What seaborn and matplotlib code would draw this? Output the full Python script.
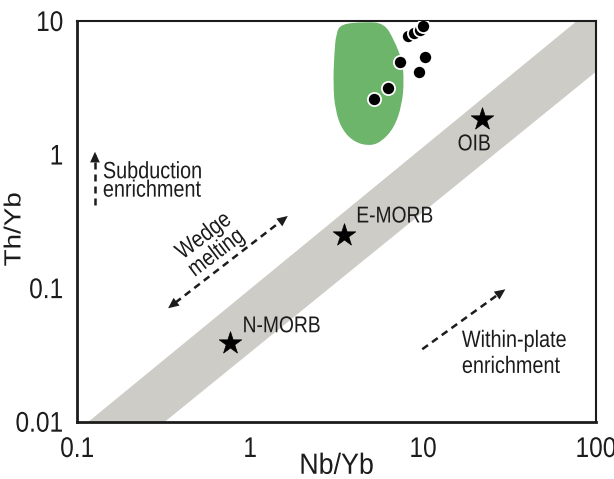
import numpy as np
import matplotlib
matplotlib.use("Agg")
import matplotlib.pyplot as plt
from matplotlib.path import Path
from matplotlib.patches import PathPatch, Polygon
from matplotlib.patheffects import AbstractPathEffect
from matplotlib.transforms import Affine2D
from matplotlib.ticker import FixedLocator, FixedFormatter, LogLocator, NullFormatter
import pandas as pd
import seaborn as sns

# Reference mantle compositions (Nb/Yb, Th/Yb)
ref_names = ["N-MORB", "E-MORB", "OIB"]
ref_nb_yb = [0.76, 3.5, 22.0]
ref_th_yb = [0.039, 0.25, 1.85]

# Samples
sample_nb_yb = [5.21, 6.30, 7.33, 9.47, 10.2, 8.18, 8.86, 9.60, 9.99]
sample_th_yb = [2.59, 3.15, 4.95, 4.13, 5.41, 7.72, 8.13, 8.57, 9.18]

# Edges of the MORB-OIB mantle array
array_upper_nb = [0.116, 77.5]
array_upper_th = [0.01, 10.0]
array_lower_nb = [0.321, 100.0]
array_lower_th = [0.01, 4.17]

# Outline of the arc-basalt field
arc_field_nb = [3.36, 4.56, 5.95, 6.79, 7.55, 7.76, 7.55, 6.79, 5.71, 4.88,
                4.00, 3.40, 3.10, 3.02, 3.06, 3.14]
arc_field_th = [9.5, 9.83, 9.66, 7.21, 5.11, 3.62, 2.35, 1.58, 1.24, 1.16,
                1.24, 1.53, 2.16, 3.32, 5.57, 8.13]

x_ticks = [0.1, 1, 10, 100]
x_tick_labels = ["0.1", "1", "10", "100"]
y_ticks = [0.01, 0.1, 1, 10]
y_tick_labels = ["0.01", "0.1", "1", "10"]

INK = "#1c1c1c"
BAND = "#cdccc7"
GREEN = "#6cb56a"


class Condense(AbstractPathEffect):
    """Squeeze glyph outlines about a pivot given as a fraction of the glyph extent."""

    def __init__(self, sx=0.82, sy=1.0, ax_=0.5, ay_=0.5):
        super().__init__()
        self.sx, self.sy, self.ax_, self.ay_ = sx, sy, ax_, ay_

    def draw_path(self, renderer, gc, tpath, affine, rgbFace=None):
        v = tpath.vertices
        if len(v):
            px = v[:, 0].min() + self.ax_ * np.ptp(v[:, 0])
            py = v[:, 1].min() + self.ay_ * np.ptp(v[:, 1])
        else:
            px = py = 0.0
        t = Affine2D().translate(-px, -py).scale(self.sx, self.sy).translate(px, py) + affine
        renderer.draw_path(gc, tpath, t, rgbFace)


sns.set_theme(style="white")
plt.rcParams["font.family"] = ["Liberation Sans", "DejaVu Sans"]

fig = plt.figure(figsize=(6.14, 4.79), dpi=100)
ax = fig.add_axes([0.1259, 0.1196, 0.8448, 0.8366])
ax.set_xscale("log")
ax.set_yscale("log")
ax.set_xlim(0.1, 100)
ax.set_ylim(0.01, 10)

# Mantle array band
band = Polygon([(array_upper_nb[0], array_upper_th[0]),
                (array_lower_nb[0], array_lower_th[0]),
                (array_lower_nb[1], array_lower_th[1]),
                (100, 10),
                (array_upper_nb[1], array_upper_th[1])],
               closed=True, facecolor=BAND, edgecolor="none", zorder=1)
ax.add_patch(band)


def smooth_closed(xs, ys):
    """Closed quadratic-Bezier outline through the midpoints of a polygon (log space)."""
    lx, ly = np.log10(xs), np.log10(ys)
    n = len(lx)
    mids = [((lx[i] + lx[(i + 1) % n]) / 2, (ly[i] + ly[(i + 1) % n]) / 2) for i in range(n)]
    verts = [mids[-1]]
    codes = [Path.MOVETO]
    for i in range(n):
        verts += [(lx[i], ly[i]), mids[i]]
        codes += [Path.CURVE3, Path.CURVE3]
    verts = 10 ** np.array(verts)
    return Path(verts, codes)


ax.add_patch(PathPatch(smooth_closed(arc_field_nb, arc_field_th),
                       facecolor=GREEN, edgecolor="none", zorder=2))

samples = pd.DataFrame({"Nb/Yb": sample_nb_yb, "Th/Yb": sample_th_yb})
sns.scatterplot(data=samples, x="Nb/Yb", y="Th/Yb", ax=ax, color="black",
                edgecolor="white", linewidth=1.3, s=90, zorder=4, legend=False)

refs = pd.DataFrame({"name": ref_names, "Nb/Yb": ref_nb_yb, "Th/Yb": ref_th_yb})
sns.scatterplot(data=refs, x="Nb/Yb", y="Th/Yb", ax=ax, color="black", marker="*",
                edgecolor="black", linewidth=0.5, s=290, zorder=4, legend=False)

label_offsets = {"N-MORB": (13, 17, "left", 0.0), "E-MORB": (12, 19, "left", 0.0),
                 "OIB": (-8, -25, "center", 0.5)}
for name, xv, yv in zip(ref_names, ref_nb_yb, ref_th_yb):
    dx, dy, ha, anc = label_offsets[name]
    ax.annotate(name, xy=(xv, yv), xytext=(dx, dy), textcoords="offset pixels",
                ha=ha, va="center", fontsize=16.5, color=INK, zorder=5,
                path_effects=[Condense(0.84, 1.0, anc, 0.5)])


def dashed_arrow(start, end, both=False):
    ls = np.log10(start)
    le = np.log10(end)
    f = 0.06
    s2 = 10 ** (ls + f * (le - ls)) if both else np.array(start)
    e2 = 10 ** (le - f * (le - ls))
    ax.plot([s2[0], e2[0]], [s2[1], e2[1]], color=INK, lw=1.8,
            ls=(0, (2.8, 2.0)), zorder=5, solid_capstyle="butt")
    heads = [(end, start)] + ([(start, end)] if both else [])
    for tip, tail in heads:
        ax.annotate("", xy=tip, xytext=tail,
                    arrowprops=dict(arrowstyle="-|>,head_length=0.55,head_width=0.25",
                                    color=INK, lw=0, shrinkA=0, shrinkB=0,
                                    mutation_scale=14), zorder=5)


# Process vectors
dashed_arrow((0.1265, 0.42), (0.1265, 1.05))
dashed_arrow((0.335, 0.0707), (1.65, 0.347), both=True)
dashed_arrow((9.89, 0.0349), (29.9, 0.098))

left_pe = [Condense(0.84, 1.0, 0.0, 0.5)]
mid_pe = [Condense(0.84, 1.0, 0.5, 0.5)]
ax.text(0.1406, 0.665, "Subduction", fontsize=17, color=INK, ha="left", va="baseline",
        path_effects=left_pe)
ax.text(0.1406, 0.484, "enrichment", fontsize=17, color=INK, ha="left", va="baseline",
        path_effects=left_pe)
ax.text(0.589, 0.212, "Wedge\nmelting", fontsize=17, color=INK, ha="center", va="center",
        rotation=37, rotation_mode="anchor", linespacing=0.95, multialignment="center",
        path_effects=mid_pe)
ax.text(16.76, 0.0363, "Within-plate", fontsize=17, color=INK, ha="left", va="baseline",
        path_effects=left_pe)
ax.text(16.76, 0.0232, "enrichment", fontsize=17, color=INK, ha="left", va="baseline",
        path_effects=left_pe)

# Axes styling
ax.xaxis.set_major_locator(FixedLocator(x_ticks))
ax.xaxis.set_major_formatter(FixedFormatter(x_tick_labels))
ax.yaxis.set_major_locator(FixedLocator(y_ticks))
ax.yaxis.set_major_formatter(FixedFormatter(y_tick_labels))
for axis in (ax.xaxis, ax.yaxis):
    axis.set_minor_locator(LogLocator(base=10, subs=np.arange(2, 10), numticks=20))
    axis.set_minor_formatter(NullFormatter())

ax.tick_params(which="both", direction="in", top=False, right=False, color=INK,
               labelsize=20.5, labelcolor=INK, width=1.8)
ax.tick_params(which="major", length=7.5)
ax.tick_params(axis="x", which="major", pad=11)
ax.tick_params(axis="y", which="major", pad=10)
ax.tick_params(which="minor", length=5)

for tick in ax.xaxis.get_major_ticks(len(x_ticks)):
    tick.label1.set_path_effects([Condense(0.86, 1.0, 0.5, 0.5)])
for tick in ax.yaxis.get_major_ticks(len(y_ticks)):
    tick.label1.set_path_effects([Condense(0.86, 1.0, 1.0, 0.5)])

for side in ("left", "bottom"):
    ax.spines[side].set_linewidth(2.0)
for side in ("top", "right"):
    ax.spines[side].set_linewidth(1.5)
for sp in ax.spines.values():
    sp.set_color(INK)
    sp.set_visible(True)

ax.set_xlabel("Nb/Yb", fontsize=21, color=INK, path_effects=[Condense(0.92, 1.0, 0.5, 0.5)])
ax.xaxis.set_label_coords(0.5, -0.075)
ax.set_ylabel("Th/Yb", fontsize=20, color=INK,
              path_effects=[Condense(1.0, 0.84, 0.5, 0.5)])
ax.yaxis.set_label_coords(-0.095, 0.48)
ax.grid(False)
fig.patch.set_facecolor("white")

fig.savefig("out.png", dpi=100, facecolor="white")
